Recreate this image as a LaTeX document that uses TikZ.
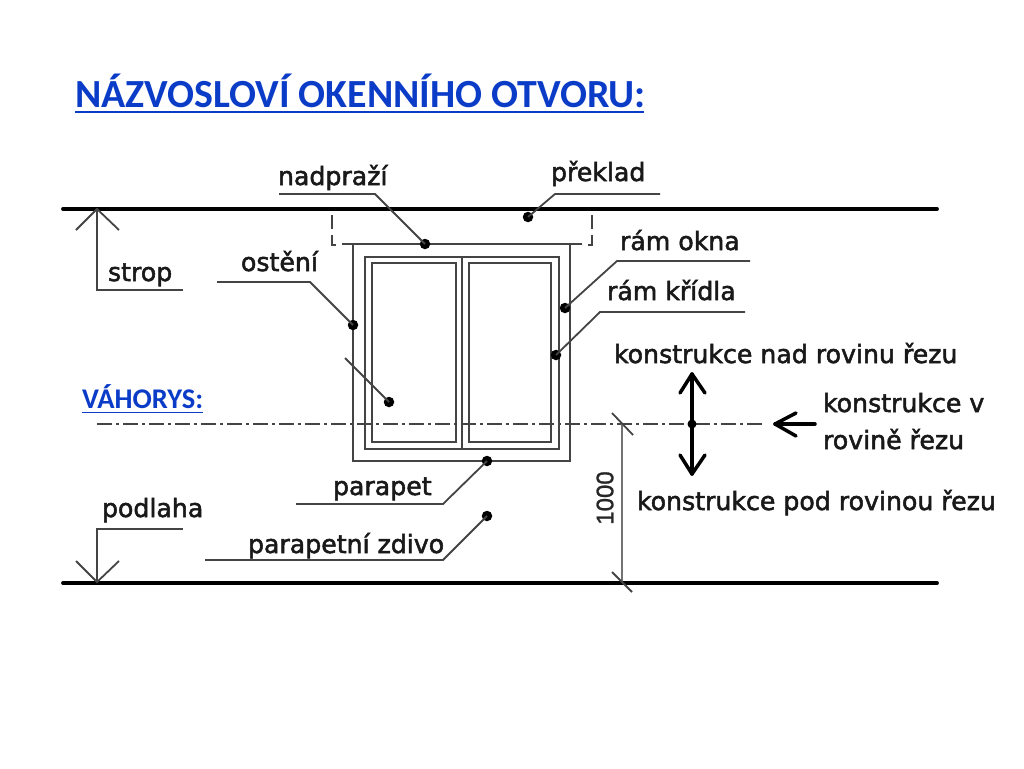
\documentclass[tikz,border=0pt]{standalone}
\usepackage{fontspec}
\setmainfont{DejaVu Sans}[FakeBold=2]
\newfontfamily\headfont{Carlito}
\newfontfamily\dimfont{Liberation Sans}[FakeBold=1.2]
\definecolor{headblue}{HTML}{0A3CC8}
\definecolor{thinline}{HTML}{444444}
\tikzset{
 lab/.style={anchor=base west,inner sep=0pt,outer sep=0pt,text=black!90,font=\fontsize{25.2}{28}\selectfont},
 head/.style={anchor=base west,inner sep=0pt,outer sep=0pt,text=headblue},
 dot/.style={circle,fill=black,inner sep=0pt,minimum size=10.5pt,outer sep=0pt},
 win/.style={draw=thinline,line width=2.6pt},
 slab/.style={draw=black,line width=3.8pt,line cap=round},
 leader/.style={draw=thinline,line width=1.8pt},
 bold arrow/.style={draw=black,line width=3.5pt,line cap=round,line join=round},
}
\begin{document}
\begin{tikzpicture}[x=1pt,y=-1pt]
\useasboundingbox (0,0) rectangle (1024,768);
\fill[white] (0,0) rectangle (1024,768);
% title
\node[head,font=\headfont\bfseries\fontsize{39.9}{44}\selectfont] (title) at (75,107) {NÁZVOSLOVÍ OKENNÍHO OTVORU:};
\coordinate (tl) at (75,111.5); \coordinate (tr) at (644,111.5);
\draw[headblue,line width=2pt] (tl) -- (tr);
\node[head,font=\headfont\bfseries\fontsize{28.5}{32}\selectfont] (vah) at (82,408.5) {VÁHORYS:};
\coordinate (vl) at (82,412.5); \coordinate (vr) at (203,412.5);
\draw[headblue,line width=1.6pt] (vl) -- (vr);
% slabs
\coordinate (t1) at (63,209); \coordinate (t2) at (937,209);
\coordinate (b1) at (63,583); \coordinate (b2) at (937,583);
\draw[slab] (t1) -- (t2);
\draw[slab] (b1) -- (b2);
% lintel dashed
\draw[thinline,line width=2pt,dash pattern=on 14pt off 6pt] (332,215) -- (332,245) -- (342,245);
\draw[thinline,line width=2pt,dash pattern=on 14pt off 6pt] (592,215) -- (592,245) -- (582,245);
% opening
\coordinate (ol) at (342,244); \coordinate (or) at (582,244);
\draw[win] (ol) -- (or);
\draw[win] (353,244) -- (353,461) -- (570,461) -- (570,244);
% frame
\draw[win] (365,257) rectangle (559,449);
\draw[win] (462,257) -- (462,449);
\draw[win] (372,263) rectangle (456,442);
\draw[win] (469,263) rectangle (551,442);
% axis
\coordinate (a1) at (97,424); \coordinate (a2) at (765,424);
\draw[thinline,line width=1.8pt,dash pattern=on 15pt off 4pt on 3pt off 4pt] (a1) -- (a2);
% dots
\node[dot] (dnad) at (425,244) {};
\node[dot] (dpre) at (528,217) {};
\node[dot] (dost) at (353,325) {};
\node[dot] (drok) at (565,308) {};
\node[dot] (drkr) at (556,355) {};
\node[dot] (dgla) at (389,402) {};
\node[dot] (dpar) at (487,461) {};
\node[dot] (dzdi) at (487,516) {};
\node[dot,minimum size=9pt] (dcen) at (692,424) {};
% leaders
\coordinate (n0) at (279,194); \coordinate (n1) at (375,194);
\draw[leader] (n0) -- (n1) -- (dnad.center);
\coordinate (p0) at (660,194); \coordinate (p1) at (555,194);
\draw[leader] (p0) -- (p1) -- (dpre.center);
\coordinate (o0) at (217,282); \coordinate (o1) at (310,282);
\draw[leader] (o0) -- (o1) -- (dost.center);
\coordinate (g0) at (345,358);
\draw[leader] (g0) -- (dgla.center);
\coordinate (r0) at (750,261); \coordinate (r1) at (617,261);
\draw[leader] (r0) -- (r1) -- (drok.center);
\coordinate (k0) at (745,312); \coordinate (k1) at (600,312);
\draw[leader] (k0) -- (k1) -- (drkr.center);
\coordinate (a0) at (296,504); \coordinate (a3) at (443,504);
\draw[leader] (a0) -- (a3) -- (dpar.center);
\coordinate (z0) at (205,560); \coordinate (z1) at (443,560);
\draw[leader] (z0) -- (z1) -- (dzdi.center);
% level marks
\coordinate (s0) at (97,209); \coordinate (s1) at (97,290); \coordinate (s2) at (183,290);
\coordinate (s3) at (76,230); \coordinate (s4) at (119,230);
\draw[leader] (s0) -- (s1) -- (s2);
\draw[leader] (s3) -- (s0) -- (s4);
\coordinate (f0) at (97,582); \coordinate (f1) at (97,529); \coordinate (f2) at (183,529);
\coordinate (f3) at (76,561); \coordinate (f4) at (119,561);
\draw[leader] (f0) -- (f1) -- (f2);
\draw[leader] (f3) -- (f0) -- (f4);
% dimension
\coordinate (d0) at (622,424); \coordinate (d1) at (622,583);
\draw[draw=black!55,line width=1.8pt] (d0) -- (d1);
\coordinate (e1) at (612,413); \coordinate (e2) at (633,435);
\coordinate (e3) at (612,572); \coordinate (e4) at (632,592);
\draw[leader] (e1) -- (e2);
\draw[leader] (e3) -- (e4);
\node[inner sep=0pt,rotate=90,font=\dimfont\fontsize{24}{24}\selectfont,text=black!85] (dim) at (605,498) {1000};
% direction arrows
\coordinate (u0) at (692,374); \coordinate (u1) at (692,474);
\coordinate (u2) at (680,393); \coordinate (u3) at (705,393);
\coordinate (u4) at (680,455); \coordinate (u5) at (705,455);
\draw[bold arrow] (u0) -- (u1);
\draw[bold arrow] (u2) -- (u0) -- (u3);
\draw[bold arrow] (u4) -- (u1) -- (u5);
\coordinate (w0) at (775,424); \coordinate (w1) at (815,424);
\coordinate (w2) at (796,413); \coordinate (w3) at (796,436);
\draw[bold arrow] (w0) -- (w1);
\draw[bold arrow] (w2) -- (w0) -- (w3);
% labels
\node[lab] (lnad) at (278,185) {nadpraží};
\node[lab] (lpre) at (551,181) {překlad};
\node[lab] (lstr) at (108,281) {strop};
\node[lab] (lost) at (241,271) {ostění};
\node[lab] (lrok) at (620,250) {rám okna};
\node[lab] (lrkr) at (607,300) {rám křídla};
\node[lab] (lkn) at (614,363) {konstrukce nad rovinu řezu};
\node[lab] (lkv) at (823,412) {konstrukce v};
\node[lab] (lkr) at (823,449) {rovině řezu};
\node[lab] (lkp) at (637,510) {konstrukce pod rovinou řezu};
\node[lab] (lpa) at (333,495) {parapet};
\node[lab] (lzd) at (248,553) {parapetní zdivo};
\node[lab] (lpo) at (102,517) {podlaha};
\end{tikzpicture}
\end{document}
